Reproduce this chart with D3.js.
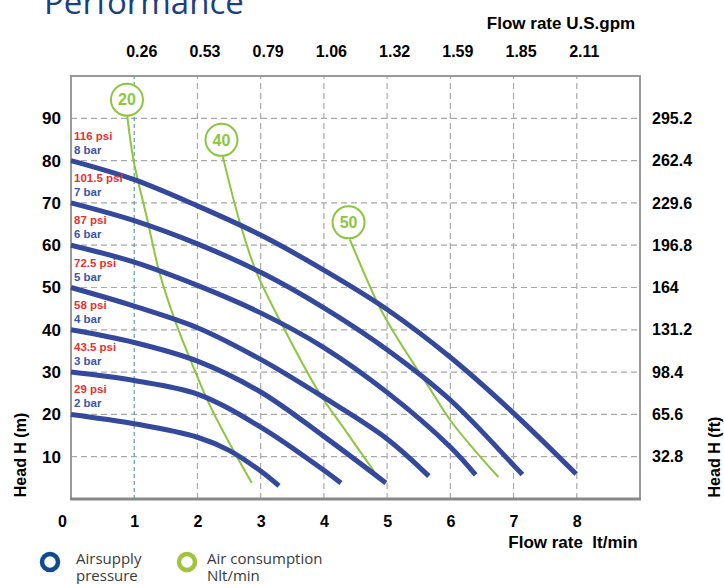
<!DOCTYPE html>
<html><head><meta charset="utf-8">
<script src="https://cdn.jsdelivr.net/npm/d3@7"></script>
<style>body{margin:0;background:#fff}svg{display:block}</style>
</head><body>
<svg id="c" width="724" height="584"></svg>
<script>
// ---- data ----
const flowTicks = [0,1,2,3,4,5,6,7,8];
const gpmLabels = ["0.26","0.53","0.79","1.06","1.32","1.59","1.85","2.11"];
const headTicks = [10,20,30,40,50,60,70,80,90];
const headFtLabels = ["32.8","65.6","98.4","131.2","164","196.8","229.6","262.4","295.2"];
const barLabels = ["2 bar","3 bar","4 bar","5 bar","6 bar","7 bar","8 bar"];
const psiLabels = ["29 psi","43.5 psi","58 psi","72.5 psi","87 psi","101.5 psi","116 psi"];

const bar2 = [[0,20],[1,17.8],[2,14.6],[2.5,11.5],[3,6.6],[3.29,3.1]];
const bar3 = [[0,30],[1,28],[2,24.8],[3,17],[4,6.8],[4.27,3.8]];
const bar4 = [[0,40],[1,37],[2,32.6],[3,25.3],[4,14.8],[4.98,3.8]];
const bar5 = [[0,50],[1,45.6],[2,40.5],[3,33],[4,24],[5,14.2],[5.66,5.4]];
const bar6 = [[0,60],[1,56],[2,50.5],[3,44],[4,35.8],[5,25.2],[6,12.3],[6.4,5.7]];
const bar7 = [[0,70],[1,65.8],[2,60.3],[3,53.6],[4,45.2],[5,35.3],[6,23.4],[7,8.0],[7.14,5.8]];
const bar8 = [[0,80],[1,75.5],[2,69.3],[3,62.4],[4,54.1],[5,44.8],[6,33.5],[7,20.3],[7.99,5.9]];
const pressureCurves = [bar2,bar3,bar4,bar5,bar6,bar7,bar8];

const airLabels = ["20","40","50"];
const air20 = [[0.89,90.5],[0.99,80],[1.2,66.5],[1.4,53.5],[1.65,42],[1.9,32.5],[2.2,22],[2.55,12],[2.86,3.8]];
const air40 = [[2.40,81],[2.67,65.4],[2.92,54.1],[3.30,42.3],[3.93,25],[4.35,16],[4.8,6.4]];
const air50 = [[4.41,61.4],[4.88,45.4],[5.2,37.1],[5.62,27.4],[6.02,18.2],[6.41,11.1],[6.76,5.2]];
const airCurves = [air20,air40,air50];
const airLabelPos = [[0.885,94.4],[2.38,84.9],[4.39,65.4]];

// ---- chart ----
const svg = d3.select("#c");
const x = d3.scaleLinear().domain([0,9]).range([71,640]);
const y = d3.scaleLinear().domain([0,100]).range([499,76]);
const yFt = d3.scaleLinear().domain([0,328]).range([499,76]);
const FONT = "'Liberation Sans', Arial, sans-serif";
const BLUE = "#34499c", GREEN = "#8cc63f", RED = "#e8312f";

// title (cut off at top)
svg.append("text").attr("x",44).attr("y",14).attr("font-family","'Open Sans', sans-serif")
  .attr("font-size",33).attr("fill","#1b3f7f").text("Performance");

// grid
const g = svg.append("g");
g.selectAll(".hg").data(headTicks).join("line")
  .attr("x1",x(0)).attr("x2",x(9)).attr("y1",d=>y(d)).attr("y2",d=>y(d))
  .attr("stroke","#a8a8a8").attr("stroke-width",1.2).attr("stroke-dasharray","6,4");
g.selectAll(".vg").data(flowTicks.slice(1)).join("line")
  .attr("x1",d=>x(d)).attr("x2",d=>x(d)).attr("y1",y(0)).attr("y2",y(100))
  .attr("stroke",d=>d===1?"#5f9ea0":"#a8a8a8").attr("stroke-width",1.2)
  .attr("stroke-dasharray",d=>d===1?"4,3":"6,4");

// frame
svg.append("rect").attr("x",x(0)).attr("y",y(100)).attr("width",x(9)-x(0)).attr("height",y(0)-y(100))
  .attr("fill","none").attr("stroke","#999").attr("stroke-width",2);
svg.append("line").attr("x1",x(0)-1).attr("x2",x(9)+1).attr("y1",y(0)).attr("y2",y(0))
  .attr("stroke","#888").attr("stroke-width",3);

// bottom axis
const xAxis = svg.append("g").attr("transform",`translate(0,${y(0)})`)
  .call(d3.axisBottom(x).tickValues(flowTicks).tickSize(0).tickPadding(17).tickFormat(d3.format("d")));
xAxis.select(".domain").remove();
xAxis.selectAll("text").attr("font-family",FONT).attr("font-size",16).attr("font-weight","bold")
  .attr("fill","#000").attr("dx",d=>d===0?-9:0);

// top axis
const xTop = svg.append("g").attr("transform",`translate(0,${y(100)})`)
  .call(d3.axisTop(x).tickValues(flowTicks.slice(1)).tickSize(0).tickPadding(19).tickFormat((d,i)=>gpmLabels[i]));
xTop.select(".domain").remove();
xTop.selectAll("text").attr("font-family",FONT).attr("font-size",16).attr("font-weight","bold")
  .attr("fill","#000").attr("dx",7);

// left axis
const yAxis = svg.append("g").attr("transform",`translate(${x(0)},0)`)
  .call(d3.axisLeft(y).tickValues(headTicks).tickSize(0).tickPadding(10).tickFormat(d3.format("d")));
yAxis.select(".domain").remove();
yAxis.selectAll("text").attr("font-family",FONT).attr("font-size",17).attr("font-weight","bold").attr("fill","#000");

// right axis
const yR = svg.append("g").attr("transform",`translate(${x(9)},0)`)
  .call(d3.axisRight(yFt).tickValues(headTicks.map(d=>d*3.28)).tickSize(0).tickPadding(12).tickFormat((d,i)=>headFtLabels[i]));
yR.select(".domain").remove();
yR.selectAll("text").attr("font-family",FONT).attr("font-size",16).attr("font-weight","bold").attr("fill","#000");

// axis titles
svg.append("text").attr("x",561).attr("y",29).attr("text-anchor","middle").attr("font-family",FONT)
  .attr("font-size",17).attr("font-weight","bold").text("Flow rate U.S.gpm");
svg.append("text").attr("x",573).attr("y",548).attr("text-anchor","middle").attr("font-family",FONT)
  .attr("font-size",17).attr("font-weight","bold").attr("xml:space","preserve").text("Flow rate  lt/min");
svg.append("text").attr("transform","translate(26,455) rotate(-90)").attr("text-anchor","middle").attr("font-family",FONT)
  .attr("font-size",16).attr("font-weight","bold").text("Head H (m)");
svg.append("text").attr("transform","translate(720,457) rotate(-90)").attr("text-anchor","middle").attr("font-family",FONT)
  .attr("font-size",16).attr("font-weight","bold").text("Head H (ft)");

// curves
const line = d3.line().x(d=>x(d[0])).y(d=>y(d[1])).curve(d3.curveCatmullRom.alpha(0.5));
svg.append("g").selectAll("path").data(airCurves).join("path").attr("d",line)
  .attr("fill","none").attr("stroke",GREEN).attr("stroke-width",2);
svg.append("g").selectAll("path").data(pressureCurves).join("path").attr("d",line)
  .attr("fill","none").attr("stroke",BLUE).attr("stroke-width",5).attr("stroke-linecap","butt");

// air consumption circle labels
const ac = svg.append("g").selectAll("g").data(airLabels).join("g")
  .attr("transform",(d,i)=>`translate(${x(airLabelPos[i][0])},${y(airLabelPos[i][1])})`);
ac.append("circle").attr("r",16).attr("fill","#fff").attr("stroke",GREEN).attr("stroke-width",2);
ac.append("text").attr("text-anchor","middle").attr("dy","0.36em").attr("font-family",FONT)
  .attr("font-size",16).attr("font-weight","bold").attr("fill",GREEN).text(d=>d);

// pressure labels
const pl = svg.append("g");
pl.selectAll(".b").data(barLabels).join("text")
  .attr("x",x(0)+3).attr("y",(d,i)=>y(pressureCurves[i][0][1])-7)
  .attr("font-family",FONT).attr("font-size",11.5).attr("font-weight","bold").attr("fill","#3c56a5").text(d=>d);
pl.selectAll(".p").data(psiLabels).join("text")
  .attr("x",x(0)+3).attr("y",(d,i)=>y(pressureCurves[i][0][1])-21)
  .attr("font-family",FONT).attr("font-size",11.5).attr("font-weight","bold").attr("fill",RED).text(d=>d);

// legend
const lg = svg.append("g").attr("font-family","'Open Sans', sans-serif").attr("font-size",15).attr("fill","#3a3a3a");
lg.append("circle").attr("cx",50).attr("cy",562).attr("r",8).attr("fill","none").attr("stroke","#0e4c92").attr("stroke-width",4.5);
lg.append("text").attr("x",76).attr("y",564).text("Airsupply");
lg.append("text").attr("x",76).attr("y",581).text("pressure");
lg.append("circle").attr("cx",187).attr("cy",562).attr("r",8).attr("fill","none").attr("stroke","#a0c43c").attr("stroke-width",4.5);
lg.append("text").attr("x",207).attr("y",564).text("Air consumption");
lg.append("text").attr("x",207).attr("y",581).text("Nlt/min");
</script>
</body></html>
